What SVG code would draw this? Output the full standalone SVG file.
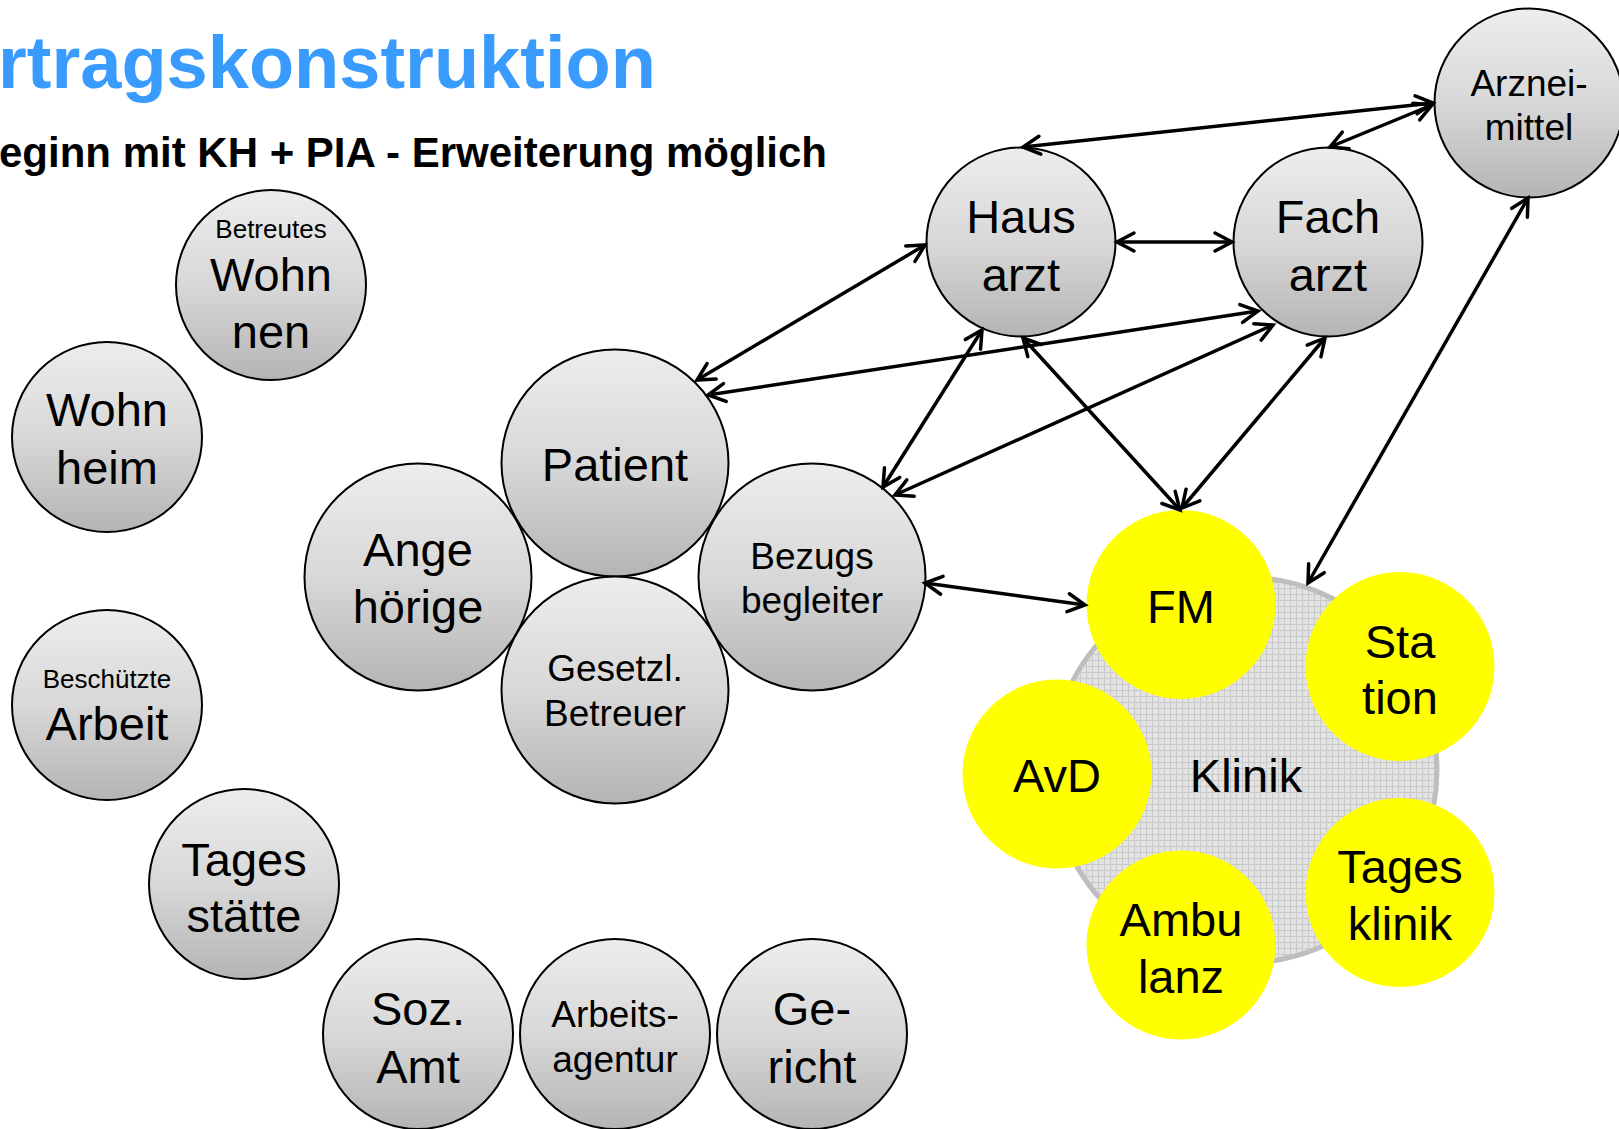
<svg xmlns="http://www.w3.org/2000/svg" width="1619" height="1129" viewBox="0 0 1619 1129">
<defs>
<linearGradient id="g" x1="0" y1="0" x2="0" y2="1">
<stop offset="0" stop-color="#ededed"/>
<stop offset="0.5" stop-color="#d8d8d8"/>
<stop offset="1" stop-color="#b4b4b4"/>
</linearGradient>
<pattern id="grid" width="6" height="6" patternUnits="userSpaceOnUse">
<rect width="6" height="6" fill="#e3e3e3"/>
<path d="M6 0.5H0.5V6" fill="none" stroke="#c8c8c8" stroke-width="1"/>
</pattern>
<marker id="ah" viewBox="-22 -13 26 26" refX="0" refY="0" markerWidth="26" markerHeight="26" markerUnits="userSpaceOnUse" orient="auto-start-reverse">
<path d="M-17,-9 L0,0 L-17,9" fill="none" stroke="#000" stroke-width="3.5" stroke-linecap="round"/>
</marker>
</defs>
<style>
.n{fill:url(#g);stroke:#000;stroke-width:2}
.y{fill:#ffff00}
.t{font-family:"Liberation Sans",Arial,sans-serif;fill:#000;text-anchor:middle}
.l{font-size:47px}
.m{font-size:37px}
.s{font-size:26px}
.c{fill:none;stroke:#000;stroke-width:3.5;marker-start:url(#ah);marker-end:url(#ah)}
</style>
<rect width="1619" height="1129" fill="#fff"/>
<text x="-2" y="88" style="font-family:'Liberation Sans',Arial,sans-serif;font-weight:bold;font-size:74px;fill:#3a9bff">rtragskonstruktion</text>
<text x="-1" y="167" style="font-family:'Liberation Sans',Arial,sans-serif;font-weight:bold;font-size:42px;fill:#000">eginn mit KH + PIA - Erweiterung möglich</text>

<g id="betreutes-wohnen"><circle class="n" cx="271" cy="285" r="95"/><text class="t s" x="271" y="238">Betreutes</text><text class="t l" x="271" y="291">Wohn</text><text class="t l" x="271" y="348">nen</text></g>
<g id="wohnheim"><circle class="n" cx="107" cy="437" r="95"/><text class="t l" x="107" y="426">Wohn</text><text class="t l" x="107" y="484">heim</text></g>
<g id="beschuetzte-arbeit"><circle class="n" cx="107" cy="705" r="95"/><text class="t s" x="107" y="688">Beschützte</text><text class="t l" x="107" y="740">Arbeit</text></g>
<g id="tagesstaette"><circle class="n" cx="244" cy="884" r="95"/><text class="t l" x="244" y="876">Tages</text><text class="t l" x="244" y="932">stätte</text></g>
<g id="soz-amt"><circle class="n" cx="418" cy="1034" r="95"/><text class="t l" x="418" y="1025">Soz.</text><text class="t l" x="418" y="1083">Amt</text></g>
<g id="arbeitsagentur"><circle class="n" cx="615" cy="1034" r="95"/><text class="t m" x="615" y="1027">Arbeits-</text><text class="t m" x="615" y="1072">agentur</text></g>
<g id="gericht"><circle class="n" cx="812" cy="1034" r="95"/><text class="t l" x="812" y="1025">Ge-</text><text class="t l" x="812" y="1083">richt</text></g>

<g id="patient"><circle class="n" cx="615" cy="463" r="113.5"/><text class="t l" x="615" y="481">Patient</text></g>
<g id="angehoerige"><circle class="n" cx="418" cy="577" r="113.5"/><text class="t l" x="418" y="566">Ange</text><text class="t l" x="418" y="623">hörige</text></g>
<g id="gesetzl-betreuer"><circle class="n" cx="615" cy="690" r="113.5"/><text class="t m" x="615" y="681">Gesetzl.</text><text class="t m" x="615" y="726">Betreuer</text></g>
<g id="bezugsbegleiter"><circle class="n" cx="812" cy="577" r="113.5"/><text class="t m" x="812" y="569">Bezugs</text><text class="t m" x="812" y="613">begleiter</text></g>

<g id="hausarzt"><circle class="n" cx="1021" cy="242" r="94.5"/><text class="t l" x="1021" y="233">Haus</text><text class="t l" x="1021" y="291">arzt</text></g>
<g id="facharzt"><circle class="n" cx="1328" cy="242" r="94.5"/><text class="t l" x="1328" y="233">Fach</text><text class="t l" x="1328" y="291">arzt</text></g>
<g id="arzneimittel"><circle class="n" cx="1529" cy="103" r="94.5"/><text class="t m" x="1529" y="96">Arznei-</text><text class="t m" x="1529" y="140">mittel</text></g>

<g id="klinik"><circle cx="1244" cy="770" r="193" fill="url(#grid)" stroke="#bebebe" stroke-width="5"/><text class="t l" x="1246" y="792">Klinik</text></g>
<g id="fm"><circle class="y" cx="1181" cy="604.5" r="94.5"/><text class="t l" x="1181" y="623">FM</text></g>
<g id="station"><circle class="y" cx="1400" cy="666.5" r="94.5"/><text class="t l" x="1400" y="658">Sta</text><text class="t l" x="1400" y="714">tion</text></g>
<g id="avd"><circle class="y" cx="1057" cy="774" r="94.5"/><text class="t l" x="1057" y="792">AvD</text></g>
<g id="tagesklinik"><circle class="y" cx="1400" cy="892.5" r="94.5"/><text class="t l" x="1400" y="883">Tages</text><text class="t l" x="1400" y="940">klinik</text></g>
<g id="ambulanz"><circle class="y" cx="1181" cy="945" r="94.5"/><text class="t l" x="1181" y="936">Ambu</text><text class="t l" x="1181" y="993">lanz</text></g>

<g id="connectors">
<line class="c" x1="1023" y1="147" x2="1433" y2="103"/>
<line class="c" x1="1330" y1="147" x2="1432" y2="105"/>
<line class="c" x1="1117" y1="242" x2="1232" y2="242"/>
<line class="c" x1="697" y1="380" x2="925" y2="245"/>
<line class="c" x1="708" y1="395" x2="1258" y2="311"/>
<line class="c" x1="883" y1="487" x2="982" y2="330"/>
<line class="c" x1="895" y1="495" x2="1273" y2="325"/>
<line class="c" x1="1023" y1="338" x2="1180" y2="510"/>
<line class="c" x1="1325" y1="338" x2="1182" y2="508"/>
<line class="c" x1="925" y1="583" x2="1085" y2="605"/>
<line class="c" x1="1528" y1="198" x2="1308" y2="583"/>
</g>
</svg>
